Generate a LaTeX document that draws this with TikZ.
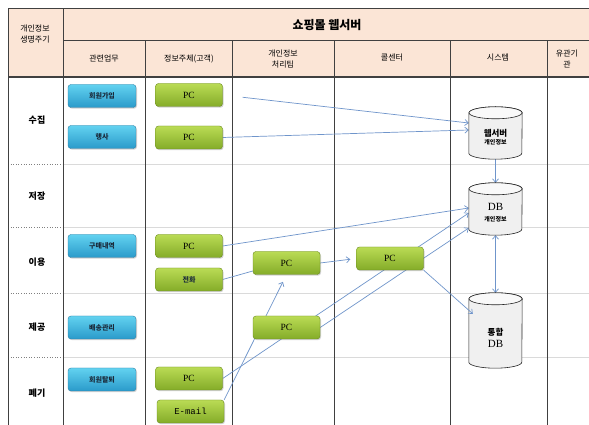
\documentclass[tikz,border=0pt]{standalone}
\usepackage{fontspec}
\setmainfont{Liberation Serif}
\newfontfamily\kr{Noto Sans CJK KR}
\newfontfamily\mono{Liberation Mono}
\usetikzlibrary{arrows.meta,shadows}
\definecolor{hdr}{HTML}{FBE5D6}
\definecolor{grid}{HTML}{404040}
\definecolor{rowline}{HTML}{DADADA}
\definecolor{arr}{HTML}{6F95CB}
\definecolor{bluetop}{HTML}{62D2F0}
\definecolor{bluebot}{HTML}{2A9ACA}
\definecolor{blueedge}{HTML}{2E7FA6}
\definecolor{greentop}{HTML}{BADB55}
\definecolor{greenbot}{HTML}{84AC28}
\definecolor{greenedge}{HTML}{6A8A1E}
\definecolor{boxtext}{HTML}{1A2A3A}
\pgfdeclarelayer{bg}
\pgfsetlayers{bg,main}
\tikzset{
  boxbase/.style={rounded corners=3pt, minimum width=68pt, minimum height=23pt, inner sep=0pt,
    drop shadow={shadow xshift=1pt, shadow yshift=-1.2pt, opacity=0.35}},
  bluebox/.style={boxbase, draw=blueedge, top color=bluetop, bottom color=bluebot, text=boxtext,
    font=\kr\bfseries\fontsize{7}{8}\selectfont},
  greenbox/.style={boxbase, minimum width=67pt, draw=greenedge, top color=greentop, bottom color=greenbot,
    font=\fontsize{9.5}{10}\selectfont},
  hlabel/.style={font=\kr\fontsize{8}{10.5}\selectfont, align=center, inner sep=0pt},
  rlabel/.style={font=\kr\bfseries\fontsize{9}{10}\selectfont, inner sep=0pt},
  conn/.style={draw=arr, line width=0.7pt},
  arrow/.style={conn, -{Straight Barb[length=3.5pt,width=6pt]}},
  cylbody/.style={draw=black!85, line width=0.6pt, fill=gray!12},
  cyltop/.style={draw=black!85, line width=0.6pt, fill=gray!5},
}
\newcommand\mycyl[4]{%
  \node[minimum width=53pt, minimum height=#4pt, inner sep=0pt] (#1) at (#2,#3) {};
  \path[cylbody] ([yshift=-6pt]#1.north west) -- ([yshift=6pt]#1.south west)
     arc[start angle=180,end angle=360,x radius=26.5pt,y radius=6pt]
     -- ([yshift=-6pt]#1.north east)
     arc[start angle=0,end angle=180,x radius=26.5pt,y radius=6pt] -- cycle;
  \path[cyltop] ([yshift=-6pt]#1.north) ellipse[x radius=26.5pt,y radius=6pt];
}
\begin{document}
\begin{tikzpicture}[x=1pt,y=1pt]
\useasboundingbox (0,0) rectangle (589,425);
\begin{pgfonlayer}{bg}
  \fill[white] (0,0) rectangle (589,425);
  \fill[hdr] (8,348) rectangle (589,417);
  \foreach \y in {261,198,132,68} {
    \draw[rowline, line width=0.6pt] (63,\y) -- (589,\y);
    \draw[gray, dotted, line width=0.6pt] (8,\y) -- (63,\y);
  }
  \draw[grid, line width=0.9pt] (8,417) -- (589,417);
  \draw[grid, line width=0.9pt] (8,0) -- (8,417);
  \draw[grid, line width=0.9pt] (63,0) -- (63,417);
  \draw[grid, line width=0.8pt] (63,385) -- (589,385);
  \draw[grid, line width=1.1pt] (8,348) -- (589,348);
  \foreach \x in {145,232,334,450,547} \draw[grid, line width=0.8pt] (\x,0) -- (\x,385);
\end{pgfonlayer}

% header
\node[hlabel] (hcycle) at (35,391) {개인정보\\생명주기};
\node[font=\kr\bfseries\fontsize{12}{12}\selectfont, inner sep=0pt] (htitle) at (327,400) {쇼핑몰 웹서버};
\node[hlabel] (hwork) at (104,366) {관련업무};
\node[hlabel] (hsubj) at (189,366) {정보주체(고객)};
\node[hlabel] (hteam) at (283,366) {개인정보\\처리팀};
\node[hlabel] (hcall) at (392,367) {콜센터};
\node[hlabel] (hsys) at (498,367) {시스템};
\node[hlabel] (hrel) at (567,366) {유관기\\관};

% row labels
\node[rlabel] (r1) at (37,305) {수집};
\node[rlabel] (r2) at (37,229) {저장};
\node[rlabel] (r3) at (37,163) {이용};
\node[rlabel] (r4) at (37,98) {제공};
\node[rlabel] (r5) at (37,32) {폐기};

% blue boxes
\node[bluebox] (b1) at (102,329) {회원가입};
\node[bluebox] (b2) at (102,288) {행사};
\node[bluebox] (b3) at (102,179) {구매내역};
\node[bluebox] (b4) at (102,97.5) {배송관리};
\node[bluebox] (b5) at (102,45.5) {회원탈퇴};

% green boxes
\node[greenbox] (pc1) at (189,330) {PC};
\node[greenbox] (pc2) at (189,287.5) {PC};
\node[greenbox] (pc3) at (189,179) {PC};
\node[greenbox, text=boxtext, font=\kr\bfseries\fontsize{7}{8}\selectfont] (tel) at (189,145.5) {전화};
\node[greenbox] (pc5) at (189,46.5) {PC};
\node[greenbox, font=\mono\fontsize{9}{9}\selectfont] (email) at (190.5,13.5) {E-mail};
\node[greenbox] (tpc1) at (286.5,162) {PC};
\node[greenbox] (tpc2) at (286.5,97.5) {PC};
\node[greenbox] (cpc) at (390,166.5) {PC};

% cylinders
\mycyl{web}{495.5}{292}{52}
\mycyl{db}{495.5}{216}{52}
\mycyl{idb}{495.5}{94.5}{75}
\node[font=\kr\bfseries\fontsize{8.5}{9}\selectfont, align=center, inner sep=0pt] (webl) at (495.5,288) {웹서버\\[-1pt]{\fontsize{6}{6.5}\selectfont 개인정보}};
\node[align=center, inner sep=0pt] (dbl) at (495.5,212) {{\fontsize{11}{10}\selectfont DB}\\[-1pt]{\kr\bfseries\fontsize{6}{6.5}\selectfont 개인정보}};
\node[align=center, inner sep=0pt] (idbl) at (495.5,87) {{\kr\bfseries\fontsize{8.5}{9}\selectfont 통합}\\[0pt]{\fontsize{11}{10}\selectfont DB}};

% connectors
\begin{pgfonlayer}{bg}
  \draw[arrow, shorten <=20pt] (pc1.east) -- ([yshift=10pt]web.west);
  \draw[arrow] (pc2.east) -- ([yshift=3pt]web.west);
  \draw[arrow] (web.south) -- (db.north);
  \draw[arrow] (pc3.east) -- ([yshift=1pt]db.west);
  \draw[conn] (tel.east) -- ([yshift=-8pt]tpc1.west);
  \draw[arrow, shorten >=6pt] (tpc1.east) -- (cpc.west);
  \draw[arrow, shorten >=8pt] (email.north east) -- (tpc1.south);
  \draw[arrow] (pc5.east) -- ([yshift=-4pt]db.west);
  \draw[arrow] (tpc2.east) -- ([yshift=-19pt]db.west);
  \draw[conn, {Straight Barb[length=3.5pt,width=6pt]}-{Straight Barb[length=3.5pt,width=6pt]}] (db.south) -- (idb.north);
\end{pgfonlayer}
\draw[arrow] (cpc.south east) -- ([xshift=4pt,yshift=-21pt]idb.north west);
\end{tikzpicture}
\end{document}
